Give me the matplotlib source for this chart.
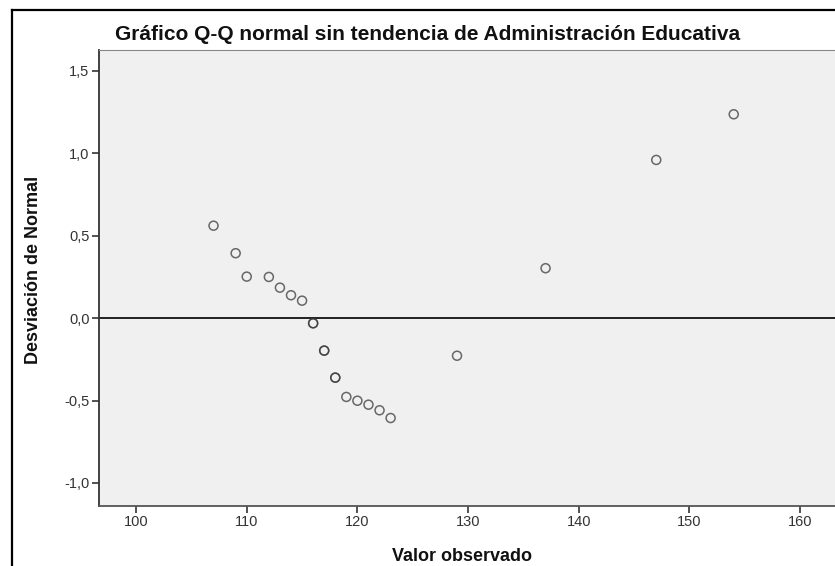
"""
Gráfico Q-Q normal sin tendencia (estilo SPSS).
Guarda la figura en out.png.
"""

import matplotlib
matplotlib.use('Agg')
import matplotlib.pyplot as plt
from matplotlib.lines import Line2D
from matplotlib.ticker import FuncFormatter

# Datos (los puntos más oscuros están repetidos)
valor_observado = [107, 109, 110, 112, 113, 114, 115, 116, 116, 117, 117,
                   118, 118, 119, 120, 121, 122, 123, 129, 137, 147, 154]
desviacion = [0.561, 0.394, 0.252, 0.250, 0.185, 0.139, 0.106, -0.031, -0.031,
              -0.197, -0.197, -0.361, -0.361, -0.478, -0.501, -0.525, -0.559,
              -0.606, -0.228, 0.303, 0.960, 1.237]

x_ticks = [100, 110, 120, 130, 140, 150, 160]
y_ticks = [-1.0, -0.5, 0.0, 0.5, 1.0, 1.5]

plt.rcParams['font.family'] = ['Liberation Sans', 'DejaVu Sans']

W, H = 835, 566
fig = plt.figure(figsize=(W / 100, H / 100), dpi=100)

# Marco exterior (recortado a la derecha y abajo)
fig.add_artist(Line2D([12 / W, 12 / W], [0, 1 - 10 / H], color='black', linewidth=1.6,
                      transform=fig.transFigure))
fig.add_artist(Line2D([12 / W, 1], [1 - 10 / H, 1 - 10 / H], color='black', linewidth=1.6,
                      transform=fig.transFigure))

left, top, bottom = 99.3, 50.0, 505.7
ax = fig.add_axes([left / W, 1 - bottom / H, 1 - left / W, (bottom - top) / H])
ax.set_facecolor('#f0f0f0')

ax.scatter(valor_observado, desviacion, s=42, facecolors='none',
           edgecolors='#3a3a3a', linewidths=1.1, alpha=0.75, zorder=3)
ax.axhline(0, color='#111111', linewidth=1.3, zorder=2)

ax.set_xlim(96.68, 163.15)
ax.set_ylim(-1.138, 1.627)
ax.set_xticks(x_ticks)
ax.set_yticks(y_ticks)
ax.yaxis.set_major_formatter(FuncFormatter(lambda v, p: f'{v:.1f}'.replace('.', ',')))
ax.tick_params(axis='both', direction='out', length=5, width=1.3, color='#444444',
               labelsize=10.5, labelcolor='#333333', pad=2)

ax.spines['right'].set_visible(False)
ax.spines['top'].set_color('#888888')
ax.spines['left'].set_color('#333333')
ax.spines['bottom'].set_color('#555555')
ax.spines['left'].set_linewidth(1.3)
ax.spines['bottom'].set_linewidth(1.3)

ax.set_xlabel('Valor observado', fontsize=13, fontweight='bold', color='#111111')
ax.xaxis.set_label_coords((462 - left) / (W - left), -(548 - bottom) / (bottom - top),
                          transform=ax.transAxes)
ax.set_ylabel('Desviación de Normal', fontsize=13, fontweight='bold', color='#111111')
ax.yaxis.set_label_coords(-(left - 42) / (W - left), (bottom - 270) / (bottom - top),
                          transform=ax.transAxes)

fig.text(115 / W, 1 - 35 / H, 'Gráfico Q-Q normal sin tendencia de Administración Educativa',
         fontsize=15, fontweight='bold', color='#111111', ha='left', va='center')

plt.savefig('out.png', dpi=100)
plt.close()
